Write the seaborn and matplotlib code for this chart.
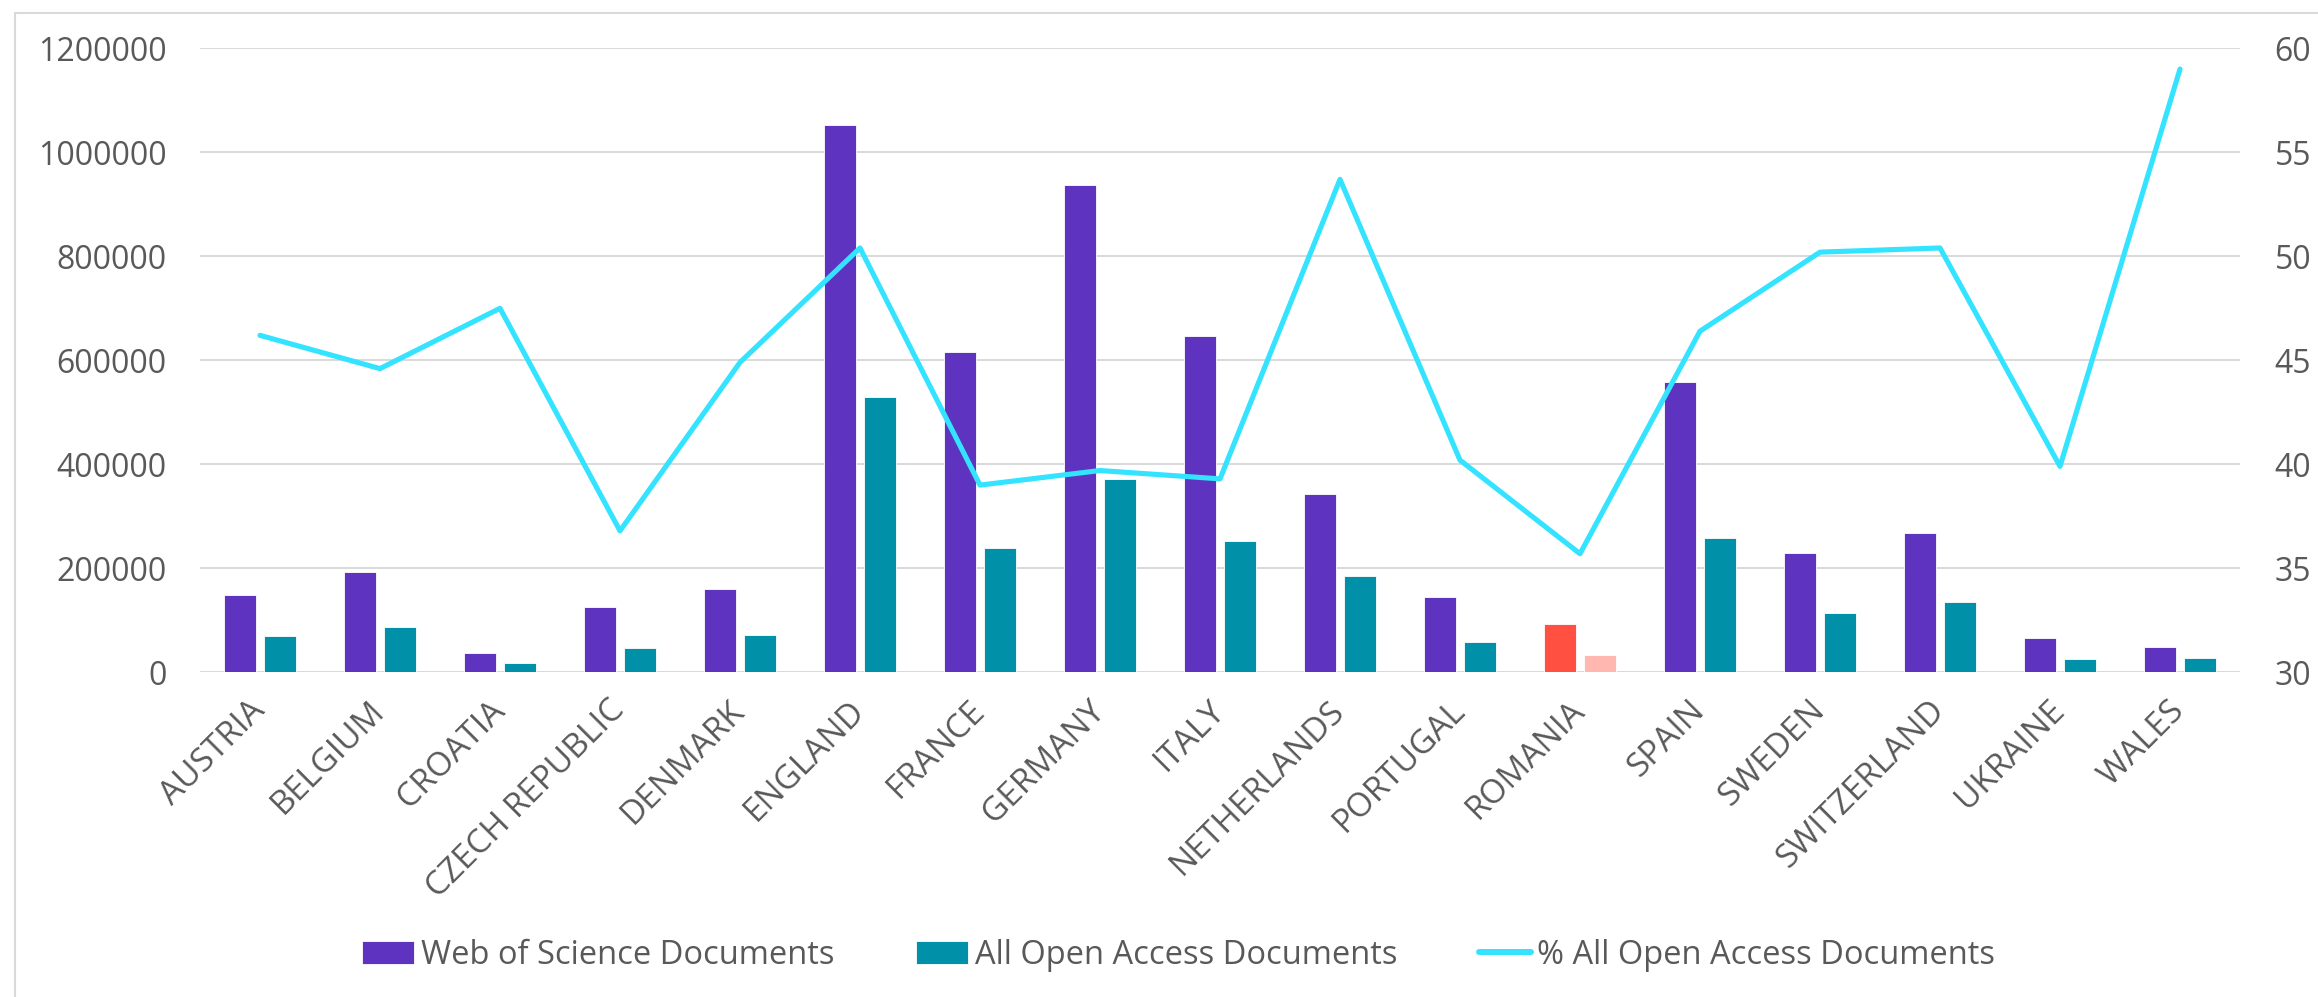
import matplotlib
matplotlib.use("Agg")
import matplotlib.pyplot as plt
import seaborn as sns
import numpy as np
import pandas as pd
from matplotlib.lines import Line2D

countries = ["AUSTRIA", "BELGIUM", "CROATIA", "CZECH REPUBLIC", "DENMARK", "ENGLAND",
             "FRANCE", "GERMANY", "ITALY", "NETHERLANDS", "PORTUGAL", "ROMANIA",
             "SPAIN", "SWEDEN", "SWITZERLAND", "UKRAINE", "WALES"]
wos_docs = [148700, 192300, 38000, 125700, 161000, 1052000, 616000, 938000, 646000,
            343400, 144300, 93800, 557500, 229200, 267300, 65500, 49600]
oa_docs = [69200, 86500, 17700, 46000, 71700, 529200, 239800, 371700, 253100,
           185000, 57500, 32700, 257500, 114200, 134500, 25700, 28300]
oa_pct = [46.2, 44.6, 47.5, 36.8, 44.9, 50.4, 39.0, 39.7, 39.3, 53.7, 40.2, 35.7,
          46.4, 50.2, 50.4, 39.9, 59.0]
series_names = ["Web of Science Documents", "All Open Access Documents",
                "% All Open Access Documents"]
left_ticks = [0, 200000, 400000, 600000, 800000, 1000000, 1200000]
right_ticks = [30, 35, 40, 45, 50, 55, 60]
highlight = "ROMANIA"

PURPLE = "#5E33BF"
TEAL = "#0090A8"
CYAN = "#33E3FF"
RED = "#FF5042"
PINK = "#FFB7B0"
GRID = "#D9D9D9"
TXT = "#595959"

sns.set_theme(style="white")
plt.rcParams["font.family"] = ["Open Sans", "DejaVu Sans"]

df = pd.DataFrame({
    "country": countries * 2,
    "series": [series_names[0]] * len(countries) + [series_names[1]] * len(countries),
    "value": wos_docs + oa_docs,
})

fig = plt.figure(figsize=(23.18, 9.97), dpi=100)
ax = fig.add_axes([200 / 2318, 1 - 672.3 / 997, 2040 / 2318, (672.3 - 48.3) / 997])

sns.barplot(data=df, x="country", y="value", hue="series", order=countries,
            hue_order=series_names[:2], palette=[PURPLE, TEAL], saturation=1,
            width=0.667, gap=0.2, edgecolor="white", linewidth=0.6, ax=ax, zorder=2)

hi = countries.index(highlight)
ax.containers[0][hi].set_facecolor(RED)
ax.containers[1][hi].set_facecolor(PINK)

handles, labels = ax.get_legend_handles_labels()
if ax.get_legend() is not None:
    ax.get_legend().remove()

ax.set_ylim(0, 1200000)
ax.set_yticks(left_ticks)
ax.set_yticklabels([str(t) for t in left_ticks])
ax.set_xlim(-0.5, len(countries) - 0.5)
ax.yaxis.grid(True, color=GRID, linewidth=1.4, zorder=0)
ax.set_axisbelow(True)
for s in ax.spines.values():
    s.set_visible(False)
ax.set_xlabel("")
ax.set_ylabel("")

ax2 = ax.twinx()
sns.lineplot(x=np.arange(len(countries)), y=oa_pct, ax=ax2, color=CYAN, linewidth=3.7,
             solid_capstyle="round", solid_joinstyle="round", zorder=5)
ax2.set_ylim(30, 60)
ax2.set_yticks(right_ticks)
ax2.set_yticklabels([str(t) for t in right_ticks])
for s in ax2.spines.values():
    s.set_visible(False)
ax2.set_ylabel("")
ax2.set_xlim(-0.5, len(countries) - 0.5)

ax.set_xticks(np.arange(len(countries)))
ax.set_xticklabels(countries, rotation=45, ha="right", va="center",
                   rotation_mode="anchor")
ax.tick_params(axis="x", length=0, pad=24, labelsize=24, colors=TXT)
ax.tick_params(axis="y", length=0, pad=24, labelsize=23, colors=TXT)
ax2.tick_params(axis="y", length=0, pad=25, labelsize=23, colors=TXT)
ax2.tick_params(axis="x", length=0, labelbottom=False)

line_handle = Line2D([0], [0], color=CYAN, linewidth=4.3, solid_capstyle="round")
handles = list(handles) + [line_handle]
labels = list(labels) + [series_names[2]]
leg = fig.legend(handles, labels, loc="center", bbox_to_anchor=(0.5085, 0.042), ncol=3,
                 frameon=False, fontsize=23.5, handlelength=1.6, handleheight=0.7,
                 handletextpad=0.2, columnspacing=2.5, labelcolor=TXT)

fig.add_artist(Line2D([15 / 2318, 15 / 2318], [0, 1 - 13 / 997], color=GRID,
                      linewidth=1.5, transform=fig.transFigure))
fig.add_artist(Line2D([15 / 2318, 1], [1 - 13 / 997, 1 - 13 / 997], color=GRID,
                      linewidth=1.5, transform=fig.transFigure))

fig.savefig("out.png", dpi=100, facecolor="white")
